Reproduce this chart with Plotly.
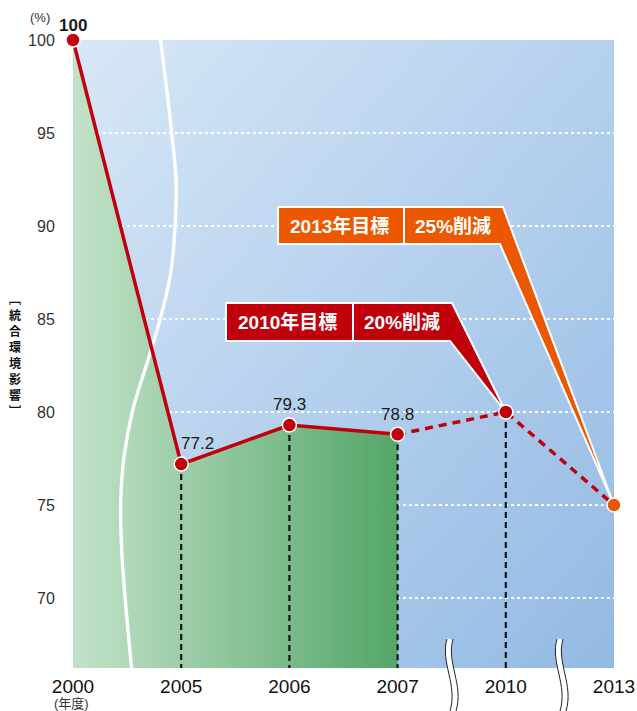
import base64
import plotly.graph_objects as go

# ---- data -------------------------------------------------------------
years = ["2000", "2005", "2006", "2007", "2010", "2013"]
impact = [100, 77.2, 79.3, 78.8, 80, 75]          # integrated environmental impact (%)
n_actual = 4                                       # 2000-2007 are results, later are targets
value_labels = ["100", "77.2", "79.3", "78.8"]
y_ticks = [70, 75, 80, 85, 90, 95, 100]
target_2010 = ["2010年目標", "20%削減"]
target_2013 = ["2013年目標", "25%削減"]
y_title_chars = ["﹇", "統", "合", "環", "境", "影", "響", "﹈"]
x_unit = "(年度)"
y_unit = "(%)"

# ---- styling ----------------------------------------------------------
RED = "#c0000b"
ORANGE = "#eb5800"
LAT = "Liberation Sans, Arial, Helvetica, sans-serif"
CJK = "Liberation Sans, 'Noto Sans CJK JP', sans-serif"
W, H = 637, 711
ML, MR, MT, MB = 73, 23, 40, 43
PW, PH = W - ML - MR, H - MT - MB
Y_MIN, Y_MAX = 66.24, 100

xs = list(range(len(years)))


def px_to_paper(px, py):
    return (px - ML) / PW, (H - MB - py) / PH


fig = go.Figure()

# green area under the measured results
fig.add_trace(go.Scatter(
    x=xs[:n_actual], y=impact[:n_actual], mode="lines", line=dict(width=0),
    fill="tozeroy",
    fillgradient=dict(type="horizontal",
                      colorscale=[[0, "#c3e2c9"], [1, "#54a669"]]),
    hoverinfo="skip", showlegend=False))

# white wavy axis-break line between 2000 and 2005
wave_x = [0.804, 0.912, 0.952, 0.943, 0.903, 0.804, 0.693, 0.552, 0.471,
          0.441, 0.450, 0.481, 0.545]
wave_y = [100.3, 95.0, 92.47, 89.95, 87.47, 84.95, 82.80, 80.11, 77.58,
          75.11, 72.58, 70.05, 66.0]
fig.add_trace(go.Scatter(
    x=wave_x, y=wave_y, mode="lines",
    line=dict(color="white", width=3.4, shape="spline", smoothing=1.0),
    hoverinfo="skip", showlegend=False))

# dashed drop lines from each point to the baseline
for i in range(1, len(years) - 1):
    fig.add_trace(go.Scatter(
        x=[xs[i], xs[i]], y=[impact[i], Y_MIN], mode="lines",
        line=dict(color="#151515", width=2.2, dash="6px,4px"),
        hoverinfo="skip", showlegend=False))


# callout boxes with tails pointing at their target values
def callout(labels, color, box, target_idx):
    x0, xdiv, x1, xrb, y0, y1, cl, cr = box
    tx, ty = xs[target_idx], impact[target_idx]
    fig.add_trace(go.Scatter(
        x=[x0, x1, tx, xrb, x0, x0], y=[y1, y1, ty, y0, y0, y1],
        mode="lines", fill="toself", fillcolor=color,
        line=dict(color="white", width=2), hoverinfo="skip", showlegend=False))
    fig.add_trace(go.Scatter(
        x=[xdiv, xdiv], y=[y0, y1], mode="lines",
        line=dict(color="white", width=2), hoverinfo="skip", showlegend=False))
    yc = (y0 + y1) / 2
    for txt, xc in zip(labels, [cl, cr]):
        fig.add_annotation(x=xc, y=yc, xref="x", yref="y", text=f"<b>{txt}</b>",
                           showarrow=False, xanchor="center", yanchor="middle",
                           font=dict(family=CJK, size=19, color="white"))


callout(target_2013, ORANGE, (1.895, 3.059, 3.974, 3.946, 89.03, 91.02, 2.463, 3.512), 5)
callout(target_2010, RED, (1.414, 2.588, 3.503, 3.484, 83.82, 85.86, 1.987, 3.045), 4)

# result line (solid) and target line (dashed)
fig.add_trace(go.Scatter(
    x=xs[:n_actual], y=impact[:n_actual], mode="lines",
    line=dict(color=RED, width=3.5), cliponaxis=False,
    hoverinfo="skip", showlegend=False))
fig.add_trace(go.Scatter(
    x=xs[n_actual - 1:], y=impact[n_actual - 1:], mode="lines",
    line=dict(color=RED, width=3.5, dash="8px,6px"), cliponaxis=False,
    hoverinfo="skip", showlegend=False))

# markers
fig.add_trace(go.Scatter(
    x=xs[:-1], y=impact[:-1], mode="markers", cliponaxis=False,
    marker=dict(size=14, color=RED, line=dict(color="white", width=1.5)),
    hoverinfo="skip", showlegend=False))
fig.add_trace(go.Scatter(
    x=xs[-1:], y=impact[-1:], mode="markers", cliponaxis=False,
    marker=dict(size=14, color=ORANGE, line=dict(color="white", width=1.5)),
    hoverinfo="skip", showlegend=False))

# value labels
label_shift = [(0, 15), (16, 21), (0, 21), (0, 20)]
for i, txt in enumerate(value_labels):
    bold = i == 0
    fig.add_annotation(
        x=xs[i], y=impact[i], xref="x", yref="y",
        text=f"<b>{txt}</b>" if bold else txt, showarrow=False,
        xanchor="center", yanchor="middle",
        xshift=label_shift[i][0], yshift=label_shift[i][1],
        font=dict(family=LAT, size=17, color="#1a1a1a"))

# axis-break marks on the x axis
shapes = []
for cx in (452, 562):
    def wave(dx):
        pts = [(cx - 2 + dx, 639), (cx - 9 + dx, 662), (cx + 9 + dx, 685), (cx + 1 + dx, 711)]
        p = [px_to_paper(a, b) for a, b in pts]
        return (f"M {p[0][0]},{p[0][1]} C {p[1][0]},{p[1][1]} "
                f"{p[2][0]},{p[2][1]} {p[3][0]},{p[3][1]}")
    shapes.append(dict(type="path", xref="paper", yref="paper", path=wave(0),
                       line=dict(color="white", width=6), layer="above"))
    for dx in (-3, 3):
        shapes.append(dict(type="path", xref="paper", yref="paper", path=wave(dx),
                           line=dict(color="#222", width=1), layer="above"))

# unit labels
ux, uy = px_to_paper(40, 18)
fig.add_annotation(x=ux, y=uy, xref="paper", yref="paper", text=y_unit, showarrow=False,
                   xanchor="center", yanchor="middle",
                   font=dict(family=CJK, size=13, color="#333"))
ux, uy = px_to_paper(71, 703)
fig.add_annotation(x=ux, y=uy, xref="paper", yref="paper", text=x_unit, showarrow=False,
                   xanchor="center", yanchor="middle",
                   font=dict(family=CJK, size=13, color="#333"))

# vertical axis title, one character per line
char_py = [298, 314, 330, 346, 362, 378, 394, 410]
for ch, py in zip(y_title_chars, char_py):
    ax_, ay_ = px_to_paper(15, py)
    fig.add_annotation(x=ax_, y=ay_, xref="paper", yref="paper", text=f"<b>{ch}</b>",
                       showarrow=False, xanchor="center", yanchor="middle",
                       font=dict(family="'Noto Sans CJK JP', sans-serif",
                                 size=12, color="#111"))

# plot-area background gradient
svg = ('<svg xmlns="http://www.w3.org/2000/svg" width="541" height="628" '
       'viewBox="0 0 541 628" preserveAspectRatio="none"><defs>'
       '<linearGradient id="g" x1="0" y1="0" x2="1" y2="1">'
       '<stop offset="0" stop-color="#d8e7f7"/><stop offset="1" stop-color="#93bae4"/>'
       '</linearGradient></defs><rect width="541" height="628" fill="url(#g)"/></svg>')
bg_src = "data:image/svg+xml;base64," + base64.b64encode(svg.encode()).decode()

fig.update_layout(
    width=W, height=H,
    margin=dict(l=ML, r=MR, t=MT, b=MB, pad=0, autoexpand=False),
    paper_bgcolor="white", plot_bgcolor="rgba(0,0,0,0)",
    showlegend=False,
    shapes=shapes,
    images=[dict(source=bg_src, xref="paper", yref="paper", x=0, y=1, sizex=1, sizey=1,
                 sizing="stretch", layer="below", xanchor="left", yanchor="top")],
    xaxis=dict(range=[0, 5], tickvals=xs, ticktext=years, showgrid=False, zeroline=False,
               showline=False, ticks="outside", ticklen=1, tickcolor="rgba(0,0,0,0)",
               automargin=False,
               tickfont=dict(family=LAT, size=19, color="#111"), fixedrange=True),
    yaxis=dict(range=[Y_MIN, Y_MAX], tickvals=y_ticks, showgrid=True, gridcolor="white",
               griddash="dot", gridwidth=1.6, zeroline=False, showline=False,
               ticks="outside", ticklen=14, tickcolor="rgba(0,0,0,0)", automargin=False,
               tickfont=dict(family=LAT, size=16, color="#333"), fixedrange=True),
)

fig.write_html("out.html")
